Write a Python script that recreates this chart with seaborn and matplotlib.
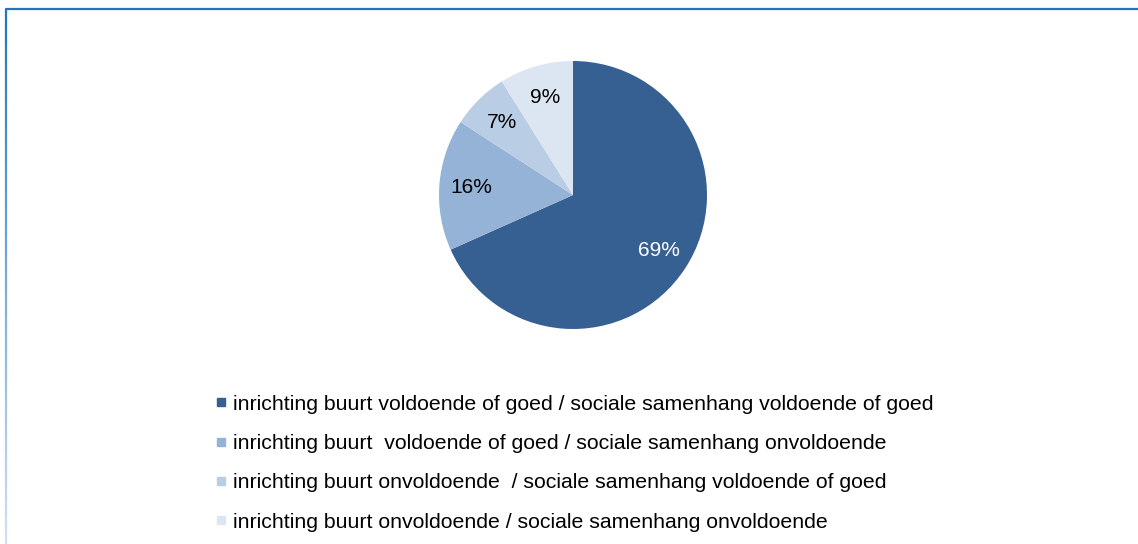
import matplotlib
matplotlib.use("Agg")
import matplotlib.pyplot as plt
import seaborn as sns
import numpy as np
from matplotlib.lines import Line2D
from matplotlib.collections import LineCollection

# Data
categories = [
    "inrichting buurt voldoende of goed / sociale samenhang voldoende of goed",
    "inrichting buurt  voldoende of goed / sociale samenhang onvoldoende",
    "inrichting buurt onvoldoende  / sociale samenhang voldoende of goed",
    "inrichting buurt onvoldoende / sociale samenhang onvoldoende",
]
shares = [69, 16, 7, 9]
colors = ["#376092", "#95B3D7", "#B9CDE5", "#DCE6F2"]
label_colors = ["white", "black", "black", "black"]

sns.set_theme(style="white")
plt.rcParams["font.family"] = ["Liberation Sans", "DejaVu Sans"]
plt.rcParams["text.color"] = "black"

W, H = 1138, 544
fig = plt.figure(figsize=(W / 100, H / 100), dpi=100)

# frame: blue top edge, left edge fading out downward
fig.add_artist(Line2D([6 / W, 1.0], [1 - 9 / H, 1 - 9 / H], color="#1F75BE", lw=1.6,
                      transform=fig.transFigure))
ys = np.linspace(1 - 9 / H, 0, 60)
segs = [[(6 / W, ys[i]), (6 / W, ys[i + 1])] for i in range(len(ys) - 1)]
fade = [plt.matplotlib.colors.to_rgba("#1F75BE")[:3] + (1.0 - 0.8 * i / len(segs),) for i in range(len(segs))]
fig.add_artist(LineCollection(segs, colors=fade, linewidths=1.6, transform=fig.transFigure))

# pie
cx, cy, r = 573, 195, 134
total = sum(shares)
ax = fig.add_axes([(cx - r) / W, (H - cy - r) / H, 2 * r / W, 2 * r / H])
wedges, texts, autotexts = ax.pie(shares, colors=colors, startangle=90, counterclock=False,
                                  autopct=lambda p: f"{round(p * total / 100)}%",
                                  pctdistance=0.76, wedgeprops=dict(linewidth=0))
for t, c in zip(autotexts, label_colors):
    t.set_color(c)
    t.set_fontsize(15)
ax.set_xlim(-1, 1)
ax.set_ylim(-1, 1)
ax.set_aspect("equal")
ax.axis("off")

# legend
handles = [Line2D([], [], marker="s", linestyle="none", markersize=6, color=c) for c in colors]
leg = fig.legend(handles, categories, loc="upper left", bbox_to_anchor=(205 / W, 1 - 384 / H),
                 frameon=False, fontsize=15.3, handlelength=0.5, handletextpad=0.3,
                 labelspacing=0.96, borderpad=0)
for t in leg.get_texts():
    t.set_color("black")

fig.savefig("out.png", dpi=100)
